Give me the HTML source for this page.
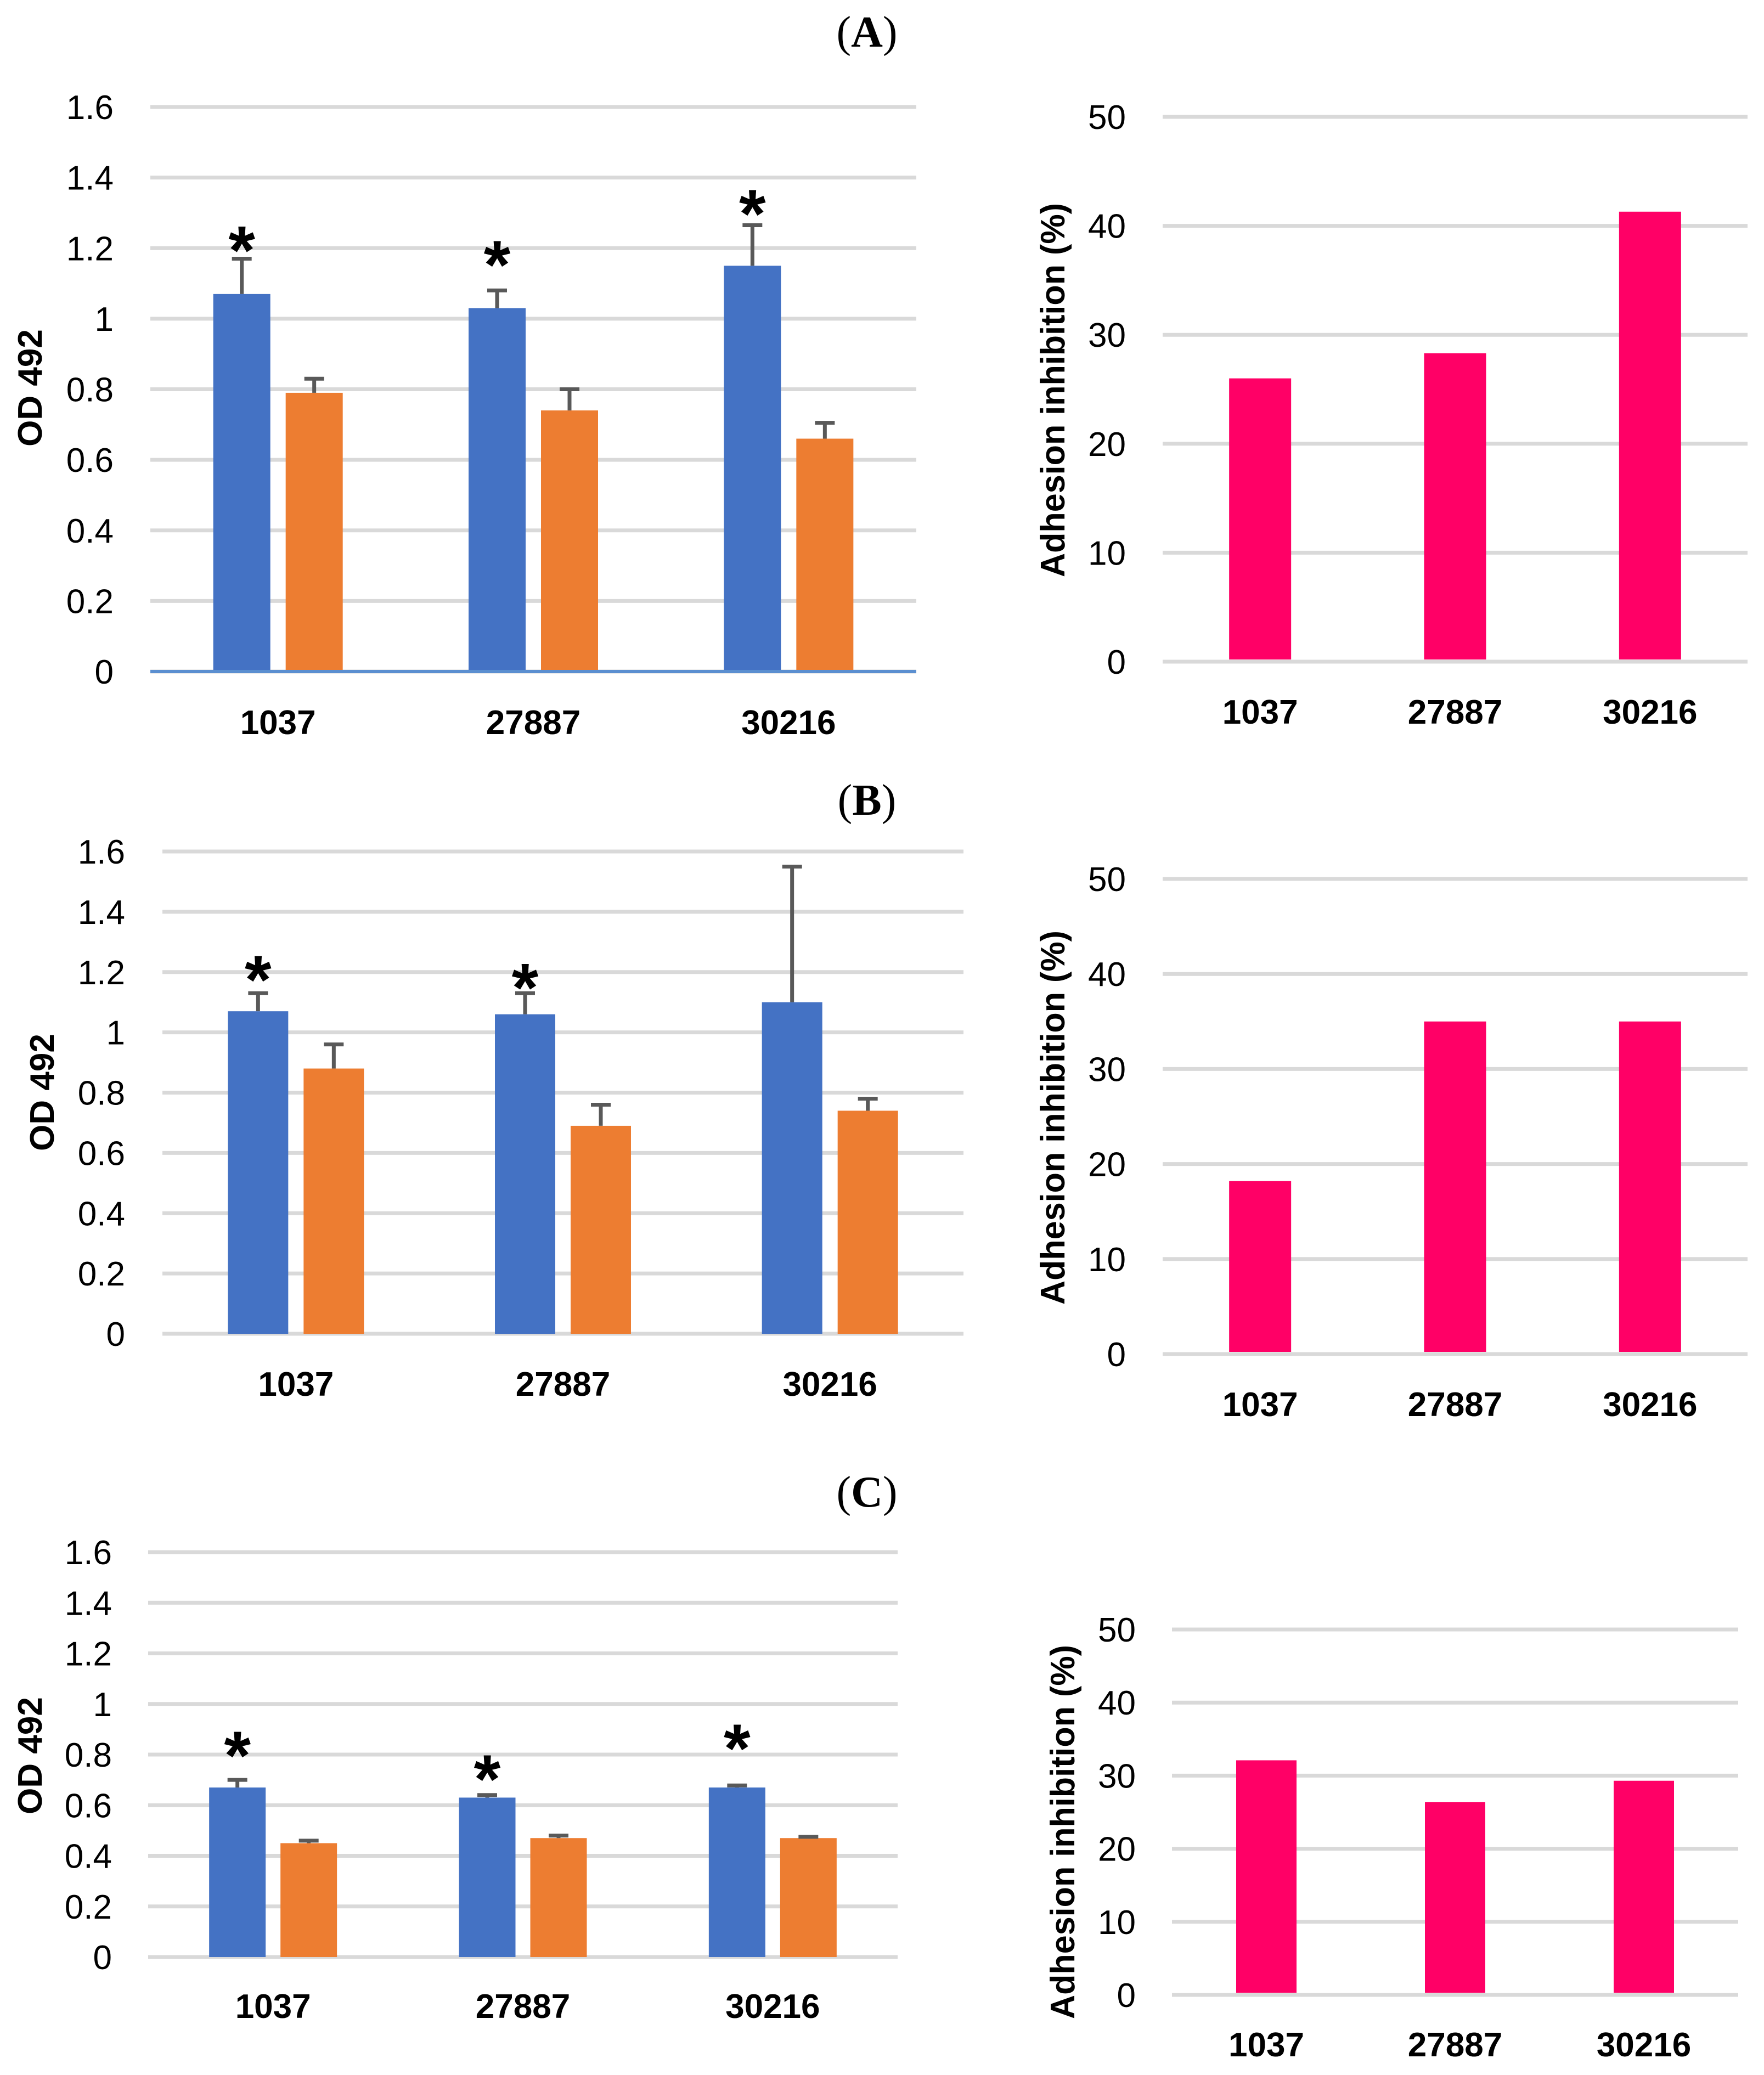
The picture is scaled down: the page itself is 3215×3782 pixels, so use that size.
<!DOCTYPE html>
<html><head><meta charset="utf-8"><style>
html,body{margin:0;padding:0;background:#fff}
svg{display:block}
text{font-family:"Liberation Sans",sans-serif}
text.serif{font-family:"Liberation Serif",serif}
</style></head><body>
<svg id="fig" width="3215" height="3782" viewBox="0 0 3215 3782" xmlns="http://www.w3.org/2000/svg">
<rect width="3215" height="3782" fill="#fff"/>
<text class="serif" x="1580" y="85" text-anchor="middle" font-size="80"><tspan>(</tspan><tspan font-weight="bold">A</tspan><tspan>)</tspan></text>
<text class="serif" x="1580" y="1485" text-anchor="middle" font-size="80"><tspan>(</tspan><tspan font-weight="bold">B</tspan><tspan>)</tspan></text>
<text class="serif" x="1580" y="2746" text-anchor="middle" font-size="80"><tspan>(</tspan><tspan font-weight="bold">C</tspan><tspan>)</tspan></text>
</svg>
<script>
const categories = ["1037", "27887", "30216"];
const odTicks = ["0", "0.2", "0.4", "0.6", "0.8", "1", "1.2", "1.4", "1.6"];
const pctTicks = ["0", "10", "20", "30", "40", "50"];
// Panel A
const aBlue = [1.07, 1.03, 1.15];
const aBlueErr = [0.10, 0.05, 0.115];
const aOrange = [0.79, 0.74, 0.66];
const aOrangeErr = [0.04, 0.06, 0.045];
const aSigAt = [1.232, 1.191, 1.336];
const aInhib = [26.0, 28.3, 41.3];
// Panel B
const bBlue = [1.07, 1.06, 1.10];
const bBlueErr = [0.06, 0.07, 0.45];
const bOrange = [0.88, 0.69, 0.74];
const bOrangeErr = [0.08, 0.07, 0.04];
const bSigAt = [1.22, 1.193, null];
const bInhib = [18.2, 35.0, 35.0];
// Panel C
const cBlue = [0.67, 0.63, 0.67];
const cBlueErr = [0.03, 0.01, 0.008];
const cOrange = [0.45, 0.47, 0.47];
const cOrangeErr = [0.01, 0.01, 0.005];
const cSigAt = [0.85, 0.757, 0.878];
const cInhib = [32.1, 26.4, 29.3];

const NS = "http://www.w3.org/2000/svg";
const svg = document.getElementById("fig");
function mk(tag, attrs) {
  const e = document.createElementNS(NS, tag);
  for (const k in attrs) e.setAttribute(k, attrs[k]);
  svg.appendChild(e);
  return e;
}
function txt(s, attrs) { const e = mk("text", attrs); e.textContent = s; return e; }

function odChart(p, blue, blueErr, orange, orangeErr, sigAt) {
  const y = v => p.y0 - (v / 1.6) * (p.y0 - p.y16);
  const cw = (p.x1 - p.x0) / categories.length;
  const xc = i => p.x0 + cw * (i + 0.5);
  odTicks.forEach(t => {
    const v = parseFloat(t);
    const g = mk("line", {x1: p.x0, x2: p.x1, y1: y(v), y2: y(v), stroke: "#d9d9d9", "stroke-width": 7});
    
    
    const l = txt(t, {x: p.tx, y: y(v) + 22, "text-anchor": "end", "font-size": 62, fill: "#000"});
    
    
  });
  if (p.axisBlue) {
    const ax = mk("line", {x1: p.x0, x2: p.x1, y1: p.y0, y2: p.y0, stroke: "#5b8fd0", "stroke-width": 6});
    
    
  }
  categories.forEach((c, i) => {
    const series = [[blue, blueErr, "#4472c4", -p.off], [orange, orangeErr, "#ed7d31", p.off]];
    series.forEach(([vals, errs, col, off], s) => {
      const cx = xc(i) + off;
      const b = mk("rect", {x: cx - p.bw / 2, y: y(vals[i]), width: p.bw, height: p.y0 - y(vals[i]) - (p.axisBlue ? 3 : 0), fill: col});
      
      
      const top = y(vals[i] + errs[i]);
      const st = mk("line", {x1: cx, x2: cx, y1: y(vals[i]), y2: top, stroke: "#595959", "stroke-width": 7});
      
      
      const cp = mk("line", {x1: cx - 18, x2: cx + 18, y1: top, y2: top, stroke: "#595959", "stroke-width": 7});
      
      
      if (s === 0 && sigAt[i] !== null) {
        const a = txt("*", {x: cx, y: y(sigAt[i]) + 68, "text-anchor": "middle", "font-size": 125, "font-weight": "bold"});
        
        
      }
    });
    const l = txt(c, {x: xc(i), y: p.ly + 22, "text-anchor": "middle", "font-size": 62, "font-weight": "bold"});
    
    
  });
  const t = txt("OD 492", {x: 0, y: 0, "text-anchor": "middle", "font-size": 62, "font-weight": "bold", transform: `translate(${p.ttx + 22},${p.tty}) rotate(-90)`});
  
  
}

function pctChart(p, vals) {
  const y = v => p.y0 - (v / 50) * (p.y0 - p.y50);
  const cw = (p.x1 - p.x0) / categories.length;
  const xc = i => p.x0 + cw * (i + 0.5);
  pctTicks.forEach(t => {
    const v = parseFloat(t);
    const g = mk("line", {x1: p.x0, x2: p.x1, y1: y(v), y2: y(v), stroke: "#d9d9d9", "stroke-width": 7});
    
    
    const l = txt(t, {x: p.tx, y: y(v) + 22, "text-anchor": "end", "font-size": 62});
    
    
  });
  categories.forEach((c, i) => {
    const b = mk("rect", {x: xc(i) - p.bw / 2, y: y(vals[i]), width: p.bw, height: y(0) - y(vals[i]) - 4, fill: "#ff0066"});
    
    
    const l = txt(c, {x: xc(i), y: p.ly + 22, "text-anchor": "middle", "font-size": 62, "font-weight": "bold"});
    
    
  });
  const t = txt("Adhesion inhibition (%)", {x: 0, y: 0, "text-anchor": "middle", "font-size": 62, "font-weight": "bold", textLength: 682, lengthAdjust: "spacingAndGlyphs", transform: `translate(${p.ttx + 22},${p.tty}) rotate(-90)`});
  
  
}

odChart({x0: 274, x1: 1670, y0: 1224, y16: 195, bw: 104, off: 66, tx: 207, ly: 1316, ttx: 54, tty: 707, axisBlue: true}, aBlue, aBlueErr, aOrange, aOrangeErr, aSigAt);
pctChart({x0: 2119, x1: 3185, y0: 1206, y50: 213, bw: 113, tx: 2052, ly: 1297, ttx: 1918, tty: 711}, aInhib);
odChart({x0: 296, x1: 1756, y0: 2431, y16: 1552, bw: 110, off: 69, tx: 228, ly: 2522, ttx: 76, tty: 1991, axisBlue: false}, bBlue, bBlueErr, bOrange, bOrangeErr, bSigAt);
pctChart({x0: 2119, x1: 3185, y0: 2468, y50: 1602, bw: 113, tx: 2052, ly: 2559, ttx: 1918, tty: 2037}, bInhib);
odChart({x0: 270, x1: 1636, y0: 3567, y16: 2829, bw: 103, off: 65, tx: 204, ly: 3656, ttx: 54, tty: 3200, axisBlue: false}, cBlue, cBlueErr, cOrange, cOrangeErr, cSigAt);
pctChart({x0: 2136, x1: 3168, y0: 3636, y50: 2970, bw: 110, tx: 2070, ly: 3726, ttx: 1936, tty: 3339}, cInhib);
</script>
</body></html>
